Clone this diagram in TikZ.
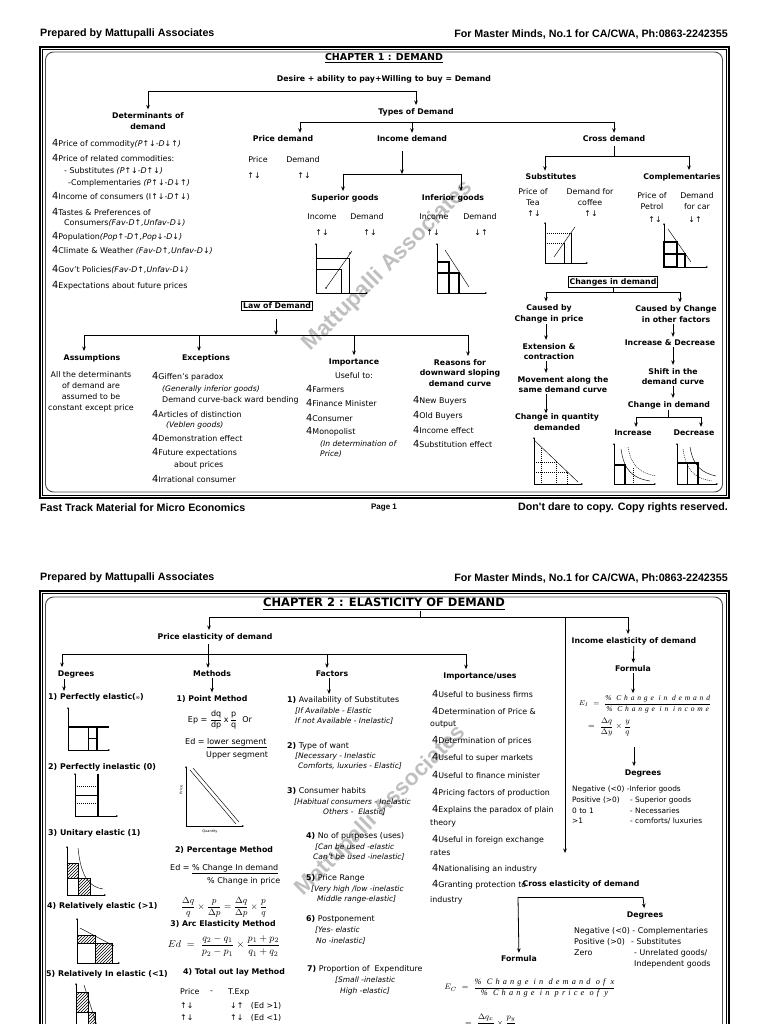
\documentclass[tikz,border=0pt]{standalone}
\usepackage{amsmath}
\usepackage{fontspec}
\setmainfont{DejaVu Sans}
\newfontfamily\hdf{Liberation Sans}
\newfontfamily\fser{Liberation Serif}[LetterSpace=38]
\usetikzlibrary{arrows.meta,patterns}
\tikzset{
  hdr/.style={font=\hdf\bfseries\fontsize{10.7}{12}\selectfont, inner sep=0pt},
  ttl/.style={font=\bfseries\fontsize{9.5}{12}\selectfont, inner sep=1pt},
  ttlb/.style={font=\bfseries\fontsize{11.5}{13}\selectfont, inner sep=1pt},
  bh/.style={font=\bfseries\fontsize{7.8}{10.8}\selectfont, align=center, inner sep=1pt},
  bhs/.style={font=\bfseries\fontsize{7.9}{9}\selectfont, anchor=west, inner sep=0pt},
  tx/.style={font=\fontsize{7.9}{10.5}\selectfont, anchor=west, inner sep=0pt},
  txn/.style={font=\fontsize{7.4}{10.5}\selectfont, anchor=west, inner sep=0pt},
  txs/.style={font=\fontsize{7.9}{10}\selectfont, anchor=west, inner sep=0pt},
  txc/.style={font=\fontsize{7.9}{11}\selectfont, align=center, inner sep=0pt},
  itx/.style={font=\itshape\fontsize{7.6}{10}\selectfont, anchor=west, inner sep=0pt},
  its/.style={font=\itshape\fontsize{7.5}{10}\selectfont, anchor=west, inner sep=0pt},
  arr/.style={-{Stealth[length=4.5pt,width=3.6pt]}, line width=0.8pt, shorten >=2pt},
  arrb/.style={-{Stealth[length=4.5pt,width=3.6pt]}, line width=0.8pt},
  ln/.style={line width=0.8pt},
  gr/.style={line width=0.45pt},
  gd/.style={line width=0.45pt, dashed, dash pattern=on 1pt off 1pt},
  gax/.style={line width=0.5pt, -{Stealth[length=2pt,width=1.8pt]}},
  gth/.style={line width=1.1pt},
  hat/.style={pattern=north east lines, draw, line width=0.45pt},
  boxed/.style={draw, line width=0.8pt, inner sep=1.5pt},
  wm/.style={font=\hdf\bfseries\fontsize{22.5}{24}\selectfont, text=black!25, rotate=45, inner sep=0pt},
  frm/.style={line width=1.6pt},
  frt/.style={line width=0.5pt},
  frr/.style={line width=0.9pt, draw=black!70, rounded corners=8pt},
  fml/.style={font=\fontsize{8}{9}\selectfont, inner sep=0pt},
}
\newcommand{\bl}{{\fontsize{9.8}{10}\selectfont 4}}
\begin{document}
\begin{tikzpicture}[x=1pt,y=-1pt]
\useasboundingbox (0,0) rectangle (768,1024);
% ================= watermarks =================
\node[wm] (wm1) at (388,266) {Mattupalli Associates};
\node[wm] (wm2) at (381,811) {Mattupalli Associates};
% ================= PAGE 1 =================
\node[hdr, anchor=west] (h1l) at (40,34) {Prepared by Mattupalli Associates};
\node[hdr, anchor=east] (h1r) at (728,34) {For Master Minds, No.1 for CA/CWA, Ph:0863-2242355};
\draw[frm] (40,47) rectangle (729,498);
\draw[frt] (42.6,49.6) rectangle (726.4,495.4);
\draw[frr] (45.5,52) rectangle (722.5,492);
\node[ttl] (t1) at (384,58) {\underline{CHAPTER 1 : DEMAND}};
\node[bh] (desire) at (384,79) {Desire + ability to pay+Willing to buy = Demand};
\node[bh] (det) at (148,121) {Determinants of\\demand};
\node[bh] (types) at (416,112) {Types of Demand};
\coordinate (b1a) at (148,91);
\coordinate (b1b) at (416,91);
\draw[ln] (b1a) -- (b1b);
\draw[arr] (b1a) -- (det);
\draw[arr] (b1b) -- (types);
% determinants list
\node[tx] (d1) at (52,144) {\bl Price of commodity\textit{(P↑↓-D↓↑)}};
\node[tx] (d2) at (52,158) {\bl Price of related commodities:};
\node[tx] (d3) at (64,171) {- Substitutes \textit{(P↑↓-D↑↓)}};
\node[tx] (d4) at (68,183) {-Complementaries \textit{(P↑↓-D↓↑)}};
\node[tx] (d5) at (52,196) {\bl Income of consumers (I↑↓-\textit{D}↑↓)};
\node[tx] (d6) at (52,212) {\bl Tastes \& Preferences of};
\node[tx] (d7) at (64,223) {Consumers\textit{(Fav-D↑,Unfav-D↓)}};
\node[tx] (d8) at (52,237) {\bl Population\textit{(Pop↑-D↑,Pop↓-D↓)}};
\node[tx] (d9) at (52,250) {\bl Climate \& Weather \textit{(Fav-D↑,Unfav-D↓)}};
\node[tx] (d10) at (52,269) {\bl Gov't Policies\textit{(Fav-D↑,Unfav-D↓)}};
\node[tx] (d11) at (52,286) {\bl Expectations about future prices};
% types of demand
\node[bh] (pd) at (283,139) {Price demand};
\node[bh] (id) at (412,139) {Income demand};
\node[bh] (cd) at (614,139) {Cross demand};
\coordinate (b2a) at (300,122);
\coordinate (b2b) at (412,122);
\coordinate (b2c) at (614,122);
\draw[ln] (b2a) -- (b2c);
\draw[arr] (b2a) -- (b2a |- pd.north);
\draw[arr] (b2b) -- (id);
\draw[arr] (b2c) -- (cd);
\node[tx, anchor=center] (pdp) at (258,160) {Price};
\node[tx, anchor=center] (pdd) at (303,160) {Demand};
\node[tx, anchor=center] (pda1) at (254,176) {↑↓};
\node[tx, anchor=center] (pda2) at (304,176) {↑↓};
% income demand
\coordinate (b3) at (402,174);
\coordinate (b3a) at (343,174);
\coordinate (b3b) at (461,174);
\draw[arrb, shorten <=8pt] (id.south -| b3) -- (b3);
\draw[ln] (b3a) -- (b3b);
\node[bh] (sg) at (345,198) {Superior goods};
\node[bh] (ig) at (453,198) {Inferior goods};
\draw[arr] (b3a) -- (b3a |- sg.north);
\draw[arr] (b3b) -- (b3b |- ig.north);
\node[tx, anchor=center] (sgi) at (322,217) {Income};
\node[tx, anchor=center] (sgd) at (367,217) {Demand};
\node[tx, anchor=center] (sga1) at (322,233) {↑↓};
\node[tx, anchor=center] (sga2) at (370,233) {↑↓};
\node[tx, anchor=center] (igi) at (434,217) {Income};
\node[tx, anchor=center] (igd) at (480,217) {Demand};
\node[tx, anchor=center] (iga1) at (433,233) {↑↓};
\node[tx, anchor=center] (iga2) at (481,233) {↓↑};
% superior graph
\draw[gax] (316,293) -- (316,243);
\draw[gax] (316,293) -- (368,293);
\draw[gr] (316,258) -- (349,258);
\draw[gr] (316,269) -- (341,269);
\draw[gr] (341,269) -- (341,293);
\draw[gr] (349,258) -- (349,293);
\draw[gr] (326,288) -- (352,251);
\fill (326,288) circle (0.9);
\fill (350,253) circle (0.9);
% inferior graph
\draw[gax] (437,293) -- (437,243);
\draw[gax] (437,293) -- (487,293);
\draw[gth] (437,262) -| (449,293);
\draw[gth] (437,273) -| (459,293);
\draw[gr] (445,250) -- (469,287);
% cross demand
\coordinate (b4) at (614,156);
\coordinate (b4a) at (545,156);
\coordinate (b4b) at (689,156);
\draw[ln, shorten <=3pt] (cd.south) -- (b4);
\draw[ln] (b4a) -- (b4b);
\node[bh] (sub) at (551,177) {Substitutes};
\node[bh] (comp) at (682,177) {Complementaries};
\draw[arr] (b4a) -- (b4a |- sub.north);
\draw[arr] (b4b) -- (b4b |- comp.north);
\node[txc] (subp) at (533,197.5) {Price of\\Tea};
\node[txc] (subd) at (590,197.5) {Demand for\\coffee};
\node[tx, anchor=center] (suba1) at (534,214) {↑↓};
\node[tx, anchor=center] (suba2) at (591,214) {↑↓};
\node[txc] (compp) at (652,201.5) {Price of\\Petrol};
\node[txc] (compd) at (697,201.5) {Demand\\for car};
\node[tx, anchor=center] (compa1) at (655,220) {↑↓};
\node[tx, anchor=center] (compa2) at (695,220) {↓↑};
% substitutes graph
\draw[gax] (545,263) -- (545,222);
\draw[gax] (545,263) -- (588,263);
\draw[gd] (545,233) -- (571,233);
\draw[gd] (545,243) -- (564,243);
\draw[gr] (564,243) -- (564,263);
\draw[gr] (571,233) -- (571,263);
\draw[gr] (554,257) -- (575,227);
% complementaries graph
\draw[gax] (664,267) -- (664,223);
\draw[gax] (664,267) -- (708,267);
\draw[gth] (664,242) rectangle (677,267);
\draw[gth] (664,254) -| (685,267);
\draw[gr] (668,229) -- (691,262);
% changes in demand
\node[bh, boxed] (chd) at (613,282) {Changes in demand};
\coordinate (b5) at (613,292);
\coordinate (b5a) at (546,292);
\coordinate (b5b) at (680,292);
\draw[ln] (chd.south) -- (b5);
\draw[ln] (b5a) -- (b5b);
\node[bh] (cp) at (549,314) {Caused by\\Change in price};
\node[bh] (co) at (676,314) {Caused by Change\\in other factors};
\draw[arr] (b5a) -- (b5a |- cp.north);
\draw[arr] (b5b) -- (b5b |- co.north);
\coordinate (lx) at (546,0);
\coordinate (rx) at (673,0);
\node[bh] (ext) at (549,351.5) {Extension \&\\contraction};
\node[bh] (mov) at (563,384.5) {Movement along the\\same demand curve};
\node[bh] (cqd) at (557,422) {Change in quantity\\demanded};
\draw[arr] (cp.south -| lx) -- (ext.north -| lx);
\draw[arr] (ext.south -| lx) -- (mov.north -| lx);
\draw[arr] (mov.south -| lx) -- ([yshift=-3pt]cqd.north -| lx);
\node[bh] (incdec) at (670,343) {Increase \& Decrease};
\node[bh] (shift) at (673,376.5) {Shift in the\\demand curve};
\node[bh] (cid) at (669,405) {Change in demand};
\draw[arr] (co.south -| rx) -- (incdec.north -| rx);
\draw[arr] (incdec.south -| rx) -- (shift.north -| rx);
\draw[arr] (shift.south -| rx) -- (cid.north -| rx);
\coordinate (b6) at (668,417);
\coordinate (b6a) at (636,417);
\coordinate (b6b) at (701,417);
\draw[ln] (cid.south -| b6) -- (b6);
\draw[ln] (b6a) -- (b6b);
\node[bh] (inc) at (633,433) {Increase};
\node[bh] (dec) at (694,433) {Decrease};
\draw[arr] (b6a) -- (b6a |- inc.north);
\draw[arr] (b6b) -- (b6b |- dec.north);
% quantity demanded graph
\draw[gax] (534,484) -- (534,437);
\draw[gax] (534,484) -- (583,484);
\draw[gr] (534,440) -- (578,482);
\draw[gd] (534,462) -- (556,462) -- (556,484);
\draw[gd] (534,472) -- (567,472) -- (567,484);
\draw[gd] (541,448) -- (541,484);
% increase graph
\draw[gax] (614,484) -- (614,443);
\draw[gax] (614,484) -- (656,484);
\draw[gr] (621,449) .. controls (624,470) and (632,478) .. (650,481);
\draw[gd] (628,447) .. controls (631,466) and (640,473) .. (656,476);
\draw[gth] (614,465) -| (625,484);
\draw[gd] (633,468) -- (633,484);
% decrease graph
\draw[gax] (677,484) -- (677,443);
\draw[gax] (677,484) -- (718,484);
\draw[gr] (690,447) .. controls (693,466) and (702,473) .. (716,476);
\draw[gd] (683,449) .. controls (686,470) and (694,478) .. (712,481);
\draw[gth] (677,463) -| (698,484);
\draw[gr] (687,463) -- (687,484);
% law of demand
\node[bh, boxed] (lod) at (277,306) {Law of Demand};
\coordinate (b7) at (276,335);
\coordinate (b7a) at (84,335);
\coordinate (b7b) at (199,335);
\coordinate (b7c) at (354,335);
\coordinate (b7d) at (468,335);
\draw[arrb, shorten <=8pt] (lod.south -| b7) -- (b7);
\draw[ln] (b7a) -- (b7d);
\node[bh] (asm) at (92,358) {Assumptions};
\node[bh] (exc) at (206,358) {Exceptions};
\node[bh] (imp) at (354,362) {Importance};
\node[bh] (rea) at (460,373) {Reasons for\\downward sloping\\demand curve};
\draw[arr] (b7a) -- (b7a |- asm.north);
\draw[arr] (b7b) -- (b7b |- exc.north);
\draw[arr] (b7c) -- (imp);
\draw[arr] (b7d) -- (b7d |- rea.north);
\node[txc] (asmt) at (91,391.5) {All the determinants\\of demand are\\assumed to be\\constant except price};
\node[tx] (e1) at (152,377) {\bl Giffen's paradox};
\node[itx] (e2) at (162,389) {(Generally inferior goods)};
\node[tx] (e3) at (162,400) {Demand curve-back ward bending};
\node[tx] (e4) at (152,414) {\bl Articles of distinction};
\node[itx] (e5) at (166,425) {(Veblen goods)};
\node[tx] (e6) at (152,438) {\bl Demonstration effect};
\node[tx] (e7) at (152,453) {\bl Future expectations};
\node[tx] (e8) at (174,465) {about prices};
\node[tx] (e9) at (152,479) {\bl Irrational consumer};
\node[tx, anchor=center] (impu) at (354,376) {Useful to:};
\node[tx] (i1) at (306,389) {\bl Farmers};
\node[tx] (i2) at (306,403) {\bl Finance Minister};
\node[tx] (i3) at (306,418) {\bl Consumer};
\node[tx] (i4) at (306,432) {\bl Monopolist};
\node[itx] (i5) at (320,444) {(In determination of};
\node[itx] (i6) at (320,454) {Price)};
\node[tx] (r1) at (413,401) {\bl New Buyers};
\node[tx] (r2) at (413,416) {\bl Old Buyers};
\node[tx] (r3) at (413,430) {\bl Income effect};
\node[tx] (r4) at (413,444) {\bl Substitution effect};
% footer
\node[hdr, anchor=west] (f1l) at (40,508) {Fast Track Material for Micro Economics};
\node[hdr, anchor=center, font=\hdf\bfseries\fontsize{8}{9}\selectfont] (pg1) at (384,508) {Page 1};
\node[hdr, anchor=east] (f1r) at (728,508) {Don't dare to copy. Copy rights reserved.};
% ================= PAGE 2 =================
\node[hdr, anchor=west] (h2l) at (40,578) {Prepared by Mattupalli Associates};
\node[hdr, anchor=east] (h2r) at (728,578) {For Master Minds, No.1 for CA/CWA, Ph:0863-2242355};
\draw[frm] (40,1030) -- (40,591) -- (729,591) -- (729,1030);
\draw[frt] (42.6,1030) -- (42.6,593.6) -- (726.4,593.6) -- (726.4,1030);
\draw[frr] (45.5,1030) -- (45.5,597) -- (722.5,597) -- (722.5,1030);
\node[ttlb] (t2) at (384,604) {\underline{CHAPTER 2 : ELASTICITY OF DEMAND}};
\coordinate (c0) at (420,617);
\coordinate (c0a) at (209,617);
\coordinate (c0b) at (628,617);
\coordinate (c0c) at (565,617);
\coordinate (c0d) at (565,853);
\draw[ln] (t2.south -| c0) -- (c0);
\draw[ln] (c0a) -- (c0b);
\node[bh] (ped) at (215,637) {Price elasticity of demand};
\node[bh] (ied) at (634,641) {Income elasticity of demand};
\draw[arr] (c0a) -- (c0a |- ped.north);
\draw[arr] (c0b) -- (c0b |- ied.north);
\draw[arrb] (c0c) -- (c0d);
% price elasticity bus
\coordinate (p0) at (208,654);
\coordinate (pa) at (62,654);
\coordinate (pb) at (208,654);
\coordinate (pc) at (327,654);
\coordinate (pdd2) at (466,654);
\draw[ln, shorten <=2pt] (ped.south -| p0) -- (p0);
\draw[ln] (pa) -- (pdd2);
\node[bh] (deg) at (76,674) {Degrees};
\node[bh] (meth) at (212,674) {Methods};
\node[bh] (fac) at (332,674) {Factors};
\node[bh] (impu2) at (480,676) {Importance/uses};
\draw[arr] (pa) -- (pa |- deg.north);
\draw[arr] (pb) -- (pb |- meth.north);
\draw[arr] (pc) -- (pc |- fac.north);
\draw[arr] (pdd2) -- (pdd2 |- impu2.north);
% degrees
\coordinate (dx) at (64,0);
\node[bhs] (pe1) at (48,697) {1) Perfectly elastic({\fontsize{5}{5}\selectfont ∞})};
\draw[arr] (deg.south -| dx) -- (pe1.north -| dx);
\node[bhs] (pe2) at (48,767) {2) Perfectly inelastic (0)};
\node[bhs] (pe3) at (48,833) {3) Unitary elastic (1)};
\node[bhs] (pe4) at (47,906) {4) Relatively elastic (>1)};
\node[bhs] (pe5) at (46,974) {5) Relatively In elastic (<1)};
% perfectly elastic graph
\draw[gax] (68,750) -- (68,707);
\draw[gax] (68,750) -- (110,750);
\draw[gth] (68,727) -- (109,727);
\draw[gr] (88,727) -- (88,750);
\draw[gr] (88,738) -- (97,738);
\draw[gth] (97,727) -- (97,750);
% perfectly inelastic graph
\draw[gax] (75,816) -- (75,773);
\draw[gax] (75,816) -- (118,816);
\draw[gth] (98,774) -- (98,816);
\draw[gr] (75,795) -- (98,795);
\draw[gd] (75,803) -- (98,803);
\draw[gd] (75,786) -- (98,786);
% unitary graph
\draw[gax] (67,895) -- (67,846);
\draw[gax] (67,895) -- (106,895);
\draw[hat] (67,863) rectangle (78,878);
\draw[hat] (78,878) rectangle (90,895);
\draw[gr] (78,848) .. controls (81,878) and (90,887) .. (103,889);
% relatively elastic graph
\draw[gax] (77,963) -- (77,918);
\draw[gax] (77,963) -- (120,963);
\draw[hat] (77,935) rectangle (95,943);
\draw[hat] (95,943) rectangle (112,963);
\draw[gr] (77,943) -- (95,943) -- (95,963);
\draw[gr] (80,928) -- (114,946);
% relatively inelastic graph
\draw[gax] (76,1030) -- (76,983);
\draw[hat] (76,992) rectangle (88,1012);
\draw[hat] (88,1012) rectangle (95,1030);
\draw[gr] (84,985) -- (97,1026);
% methods
\node[bh] (pm1) at (212,699) {1) Point Method};
\draw[arr] (meth) -- (pm1);
\node[fml] (ep) at (220,720) {Ep = $\dfrac{\text{dq}}{\text{dp}}$\,x\,$\dfrac{\text{p}}{\text{q}}$\ \ Or};
\node[fml, anchor=west] (eds1) at (185,743) {Ed = \underline{lower segment}};
\node[fml, anchor=west] (eds2) at (206,755) {Upper segment};
% point method graph
\draw[gax] (186,826) -- (186,766);
\draw[gax] (186,826) -- (244,826);
\draw[gr] (190,770) -- (236,824);
\draw[gr] (193,768) -- (239,822);
\node[font=\fontsize{3.5}{4}\selectfont, inner sep=0pt] (pmq) at (210,832) {Quantity};
\node[font=\fontsize{3.5}{4}\selectfont, inner sep=0pt, rotate=90] (pmp) at (181,790) {Price};
\node[bh] (pm2) at (224,850) {2) Percentage Method};
\node[fml, anchor=west] (pct1) at (170,869) {Ed = \underline{\% Change In demand}};
\node[fml, anchor=west] (pct2) at (207,881) {\% Change in price};
\node[font=\fontsize{9}{10}\selectfont, inner sep=0pt] (pct3) at (224,907) {$\dfrac{\Delta q}{q}\times\dfrac{p}{\Delta p}=\dfrac{\Delta q}{\Delta p}\times\dfrac{p}{q}$};
\node[bh] (pm3) at (223,924) {3) Arc Elasticity Method};
\node[font=\fontsize{10}{11}\selectfont, inner sep=0pt] (arc) at (224,946) {$Ed\ =\ \dfrac{q_2-q_1}{p_2-p_1}\times\dfrac{p_1+p_2}{q_1+q_2}$};
\node[bh] (pm4) at (234,972) {4) Total out lay Method};
\node[tx] (to0a) at (180,992) {Price};
\node[tx] (to0b) at (210,992) {-};
\node[tx] (to0c) at (228,992) {T.Exp};
\node[tx] (to1a) at (180,1006) {↑↓};
\node[tx] (to1b) at (230,1006) {↓↑\ \ \ (Ed >1)};
\node[tx] (to2a) at (180,1018) {↑↓};
\node[tx] (to2b) at (230,1018) {↑↓\ \ \ (Ed <1)};
\node[tx] (to3a) at (180,1030) {↑↓};
\node[tx] (to3b) at (230,1030) {Same(Ed =1)};
% factors
\coordinate (fx) at (329,0);
\node[txs] (f1) at (287,700) {\textbf{1)} Availability of Substitutes};
\draw[arr] (fac.south -| fx) -- (f1.north -| fx);
\node[its] (f1a) at (295,711) {[If Available - Elastic};
\node[its] (f1b) at (295,721) {If not Available - Inelastic]};
\node[txs] (f2) at (287,746) {\textbf{2)} Type of want};
\node[its] (f2a) at (295,756) {[Necessary - Inelastic};
\node[its] (f2b) at (298,766) {Comforts, luxuries - Elastic]};
\node[txs] (f3) at (287,791) {\textbf{3)} Consumer habits};
\node[its] (f3a) at (294,802) {[Habitual consumers - Inelastic};
\node[its] (f3b) at (323,812) {Others -\ \ Elastic]};
\node[txs] (f4) at (306,836) {\textbf{4)} No of purposes (uses)};
\node[its] (f4a) at (315,847) {[Can be used -elastic};
\node[its] (f4b) at (313,857) {Can't be used -inelastic]};
\node[txs] (f5) at (306,878) {\textbf{5)} Price Range};
\node[its] (f5a) at (311,889) {[Very high /low -inelastic};
\node[its] (f5b) at (317,899) {Middle range-elastic]};
\node[txs] (f6) at (306,919) {\textbf{6)} Postponement};
\node[its] (f6a) at (315,930) {[Yes- elastic};
\node[its] (f6b) at (316,941) {No -inelastic]};
\node[txs] (f7) at (307,969) {\textbf{7)} Proportion of\ \ Expenditure};
\node[its] (f7a) at (335,980) {[Small -inelastic};
\node[its] (f7b) at (340,991) {High -elastic]};
% importance / uses
\node[tx] (u1) at (432,694) {\bl Useful to business firms};
\node[tx] (u2) at (432,711) {\bl Determination of Price \&};
\node[tx] (u2b) at (430,725) {output};
\node[tx] (u3) at (432,741) {\bl Determination of prices};
\node[tx] (u4) at (432,758) {\bl Useful to super markets};
\node[tx] (u5) at (432,775) {\bl Useful to finance minister};
\node[tx] (u6) at (432,793) {\bl Pricing factors of production};
\node[tx] (u7) at (432,810) {\bl Explains the paradox of plain};
\node[tx] (u7b) at (430,823) {theory};
\node[tx] (u8) at (432,840) {\bl Useful in foreign exchange};
\node[tx] (u8b) at (430,853) {rates};
\node[tx] (u9) at (432,869) {\bl Nationalising an industry};
\node[tx] (u10) at (432,885) {\bl Granting protection to};
\node[tx] (u10b) at (430,900) {industry};
% income elasticity
\node[bh] (ifo) at (633,669) {Formula};
\draw[arr] (ied) -- (ifo);
\node[font=\fontsize{7.5}{8}\selectfont, inner sep=0pt] (ei1) at (645,704) {$E_I\ =\ \dfrac{\text{\fser\itshape\% Change in demand}}{\text{\fser\itshape\% Change in income}}$};
\draw[arr] (ifo) -- (ifo |- ei1.north);
\node[font=\fontsize{8}{9}\selectfont, inner sep=0pt, anchor=west] (ei2) at (588,727) {$=\ \dfrac{\Delta q}{\Delta y}\times\dfrac{y}{q}$};
\node[bh] (ideg) at (643,773) {Degrees};
\coordinate (ix) at (634,0);
\coordinate (ixa) at (634,747);
\draw[arr] (ixa) -- (ideg.north -| ix);
\node[txn] (id1) at (572,789) {Negative (<0) -Inferior goods};
\node[txn] (id2) at (572,800) {Positive (>0)};
\node[txn] (id2b) at (630,800) {- Superior goods};
\node[txn] (id3) at (572,811) {0 to 1};
\node[txn] (id3b) at (630,811) {- Necessaries};
\node[txn] (id4) at (572,821) {>1};
\node[txn] (id4b) at (630,821) {- comforts/ luxuries};
% cross elasticity
\node[bh] (ced) at (581,884) {Cross elasticity of demand};
\coordinate (x0a) at (518,897);
\coordinate (x0b) at (643,897);
\draw[ln] (x0a) -- (x0b);
\node[bh] (cdeg) at (645,915) {Degrees};
\node[bh] (cfo) at (519,959) {Formula};
\draw[arr] (x0b) -- (cdeg);
\draw[arr] (x0a) -- (cfo);
\node[tx] (cd1) at (574,931) {Negative (<0) - Complementaries};
\node[tx] (cd2) at (574,942) {Positive (>0)};
\node[tx] (cd2b) at (631,942) {- Substitutes};
\node[tx] (cd3) at (574,953) {Zero};
\node[tx] (cd3b) at (634,953) {- Unrelated goods/};
\node[tx] (cd4) at (634,964) {Independent goods};
\node[font=\fontsize{8.3}{9}\selectfont, inner sep=0pt] (ec1) at (530,988) {$E_C\ =\ \dfrac{\text{\fser\itshape\% Change in demand of x}}{\text{\fser\itshape\% Change in price of y}}$};
\node[font=\fontsize{8}{9}\selectfont, inner sep=0pt, anchor=west] (ec2) at (465,1024) {$=\ \dfrac{\Delta q_x}{\Delta p_y}\times\dfrac{p_y}{q_x}$};
\end{tikzpicture}
\end{document}
